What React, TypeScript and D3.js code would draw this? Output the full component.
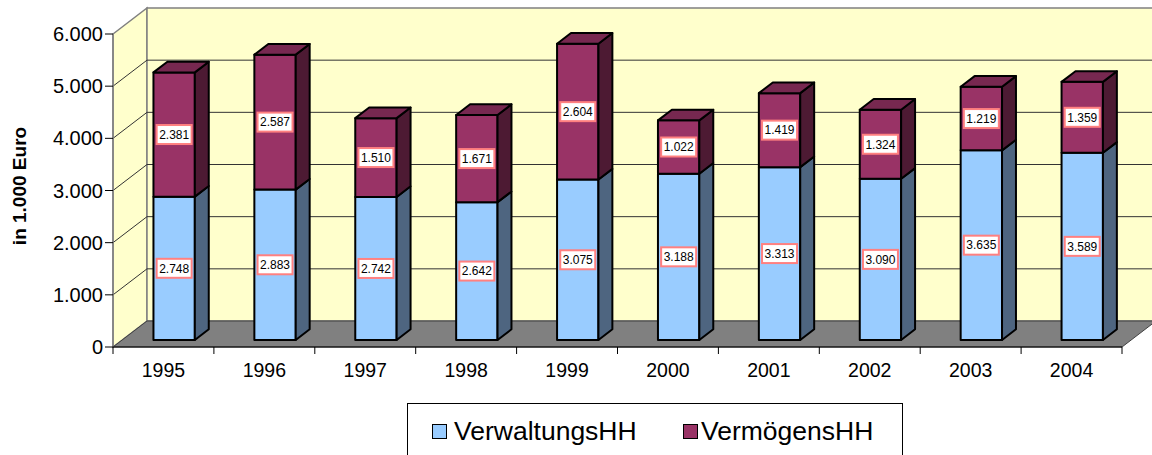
import * as d3 from 'd3';

const years = ['1995', '1996', '1997', '1998', '1999', '2000', '2001', '2002', '2003', '2004'];
const verwaltungsHH = [2748, 2883, 2742, 2642, 3075, 3188, 3313, 3090, 3635, 3589];
const vermoegensHH = [2381, 2587, 1510, 1671, 2604, 1022, 1419, 1324, 1219, 1359];
const yTicks = [0, 1000, 2000, 3000, 4000, 5000, 6000];
const seriesNames = ['VerwaltungsHH', 'VermögensHH'];

const width = 1152;
const height = 455;
const font = '"Liberation Sans", Arial, sans-serif';

// 3d look: depth offset of the floor, and where the bars sit inside that depth
const depthX = 34;
const depthY = 26;
const barZ0 = 0.27;
const barZ1 = 0.68;

const colors = [
  { front: '#99CCFF', side: '#4E6580', top: '#7AA3CC' },
  { front: '#993366', side: '#4D1A33', top: '#772850' },
];

const de = d3.formatLocale({ decimal: ',', thousands: '.', grouping: [3], currency: ['', ' €'] });
const fmt = de.format(',');

const pts = (p: number[][]) => p.map(d => d.join(',')).join(' ');

export default function App() {
  const x = d3.scaleBand().domain(years).range([113, 1122]).paddingInner(0).paddingOuter(0);
  const y = d3.scaleLinear().domain([0, 6000]).range([347, 34]);
  const bw = x.bandwidth();

  const fx = depthX * barZ0, fy = -depthY * barZ0;
  const bdx = depthX * (barZ1 - barZ0), bdy = -depthY * (barZ1 - barZ0);

  const stacks = years.map((yr, i) => {
    const vals = [verwaltungsHH[i], vermoegensHH[i]];
    let acc = 0;
    return vals.map((v, s) => {
      const seg = { year: yr, s, v, y0: acc, y1: acc + v };
      acc += v;
      return seg;
    });
  });

  const xl = x.range()[0], xr = x.range()[1];
  const yTop = y(6000), yBot = y(0);

  return (
    <svg width={width} height={height} style={{ position: 'absolute', left: 0, top: 0, background: '#fff' }}
      fontFamily={font}>
      {/* side wall */}
      <polygon points={pts([[xl, yTop], [xl + depthX, yTop - depthY], [xl + depthX, yBot - depthY], [xl, yBot]])}
        fill="#FFFFCC" stroke="#808080" strokeWidth={1.5} />
      {/* back wall */}
      <polygon points={pts([[xl + depthX, yTop - depthY], [width + 20, yTop - depthY], [width + 20, yBot - depthY], [xl + depthX, yBot - depthY]])}
        fill="#FFFFCC" stroke="#808080" strokeWidth={1.5} />
      {/* floor */}
      <polygon points={pts([[xl, yBot], [xl + depthX, yBot - depthY], [xr + depthX, yBot - depthY], [xr, yBot]])}
        fill="#808080" stroke="#404040" strokeWidth={1} />
      {/* gridlines */}
      {yTicks.filter(t => t > 0 && t < 6000).map(t => (
        <g key={t} stroke="#333" strokeWidth={1}>
          <line x1={xl} y1={y(t)} x2={xl + depthX} y2={y(t) - depthY} />
          <line x1={xl + depthX} y1={y(t) - depthY} x2={width + 20} y2={y(t) - depthY} />
        </g>
      ))}
      {/* y axis */}
      <line x1={xl} y1={yTop} x2={xl} y2={yBot} stroke="#808080" strokeWidth={1.5} />
      {yTicks.map(t => (
        <g key={t}>
          <line x1={xl - 8} y1={y(t)} x2={xl} y2={y(t)} stroke="#000" />
          <text x={xl - 10} y={y(t)} dy="0.35em" textAnchor="end" fontSize={20} fill="#000">{fmt(t)}</text>
        </g>
      ))}
      {/* x axis */}
      <line x1={xl} y1={yBot} x2={xr} y2={yBot} stroke="#000" strokeWidth={1} />
      {[...years.map(yr => x(yr)!), xr].map((v, i) => (
        <line key={i} x1={v} y1={yBot} x2={v} y2={yBot + 7} stroke="#000" />
      ))}
      {years.map(yr => (
        <text key={yr} x={x(yr)! + bw / 2} y={377} textAnchor="middle" fontSize={19.5} fill="#000">{yr}</text>
      ))}
      {/* bars */}
      {stacks.map((segs, i) => {
        const x0 = x(years[i])! + bw * 0.31 + fx;
        const w = bw * 0.41;
        const x1 = x0 + w;
        return (
          <g key={i} stroke="#000" strokeWidth={2} strokeLinejoin="round">
            {segs.map(sg => {
              const yb = y(sg.y0) + fy, yt = y(sg.y1) + fy;
              const c = colors[sg.s];
              return (
                <g key={sg.s}>
                  <rect x={x0} y={yt} width={w} height={yb - yt} fill={c.front} />
                  <polygon points={pts([[x1, yt], [x1 + bdx, yt + bdy], [x1 + bdx, yb + bdy], [x1, yb]])} fill={c.side} />
                  {sg.s === segs.length - 1 && (
                    <polygon points={pts([[x0, yt], [x0 + bdx, yt + bdy], [x1 + bdx, yt + bdy], [x1, yt]])} fill={c.top} />
                  )}
                </g>
              );
            })}
          </g>
        );
      })}
      {/* data labels */}
      {stacks.map((segs, i) => {
        const cx = x(years[i])! + bw * 0.31 + fx + bw * 0.205;
        return segs.map(sg => {
          const cy = y((sg.y0 + sg.y1) / 2) + fy;
          return (
            <g key={`${i}-${sg.s}`}>
              <rect x={cx - 17.5} y={cy - 9.5} width={35} height={19} fill="#fff" stroke="#FF8080" strokeWidth={2} />
              <text x={cx} y={cy} dy="0.36em" textAnchor="middle" fontSize={12} fill="#000">{fmt(sg.v)}</text>
            </g>
          );
        });
      })}
      {/* y title */}
      <text transform={`translate(26, 186) rotate(-90)`} textAnchor="middle" fontSize={19} fontWeight="bold" fill="#000">
        in 1.000 Euro
      </text>
      {/* legend */}
      <rect x={407.5} y={403.5} width={495} height={60} fill="#fff" stroke="#000" strokeWidth={1} />
      {seriesNames.map((name, s) => {
        const lx = s === 0 ? 432 : 683;
        return (
          <g key={name}>
            <rect x={lx + 0.5} y={424.5} width={14} height={14} fill={colors[s].front} stroke="#000" strokeWidth={1} />
            <text x={lx + (s === 0 ? 22 : 18)} y={440} fontSize={26.5} fill="#000">{name}</text>
          </g>
        );
      })}
    </svg>
  );
}
